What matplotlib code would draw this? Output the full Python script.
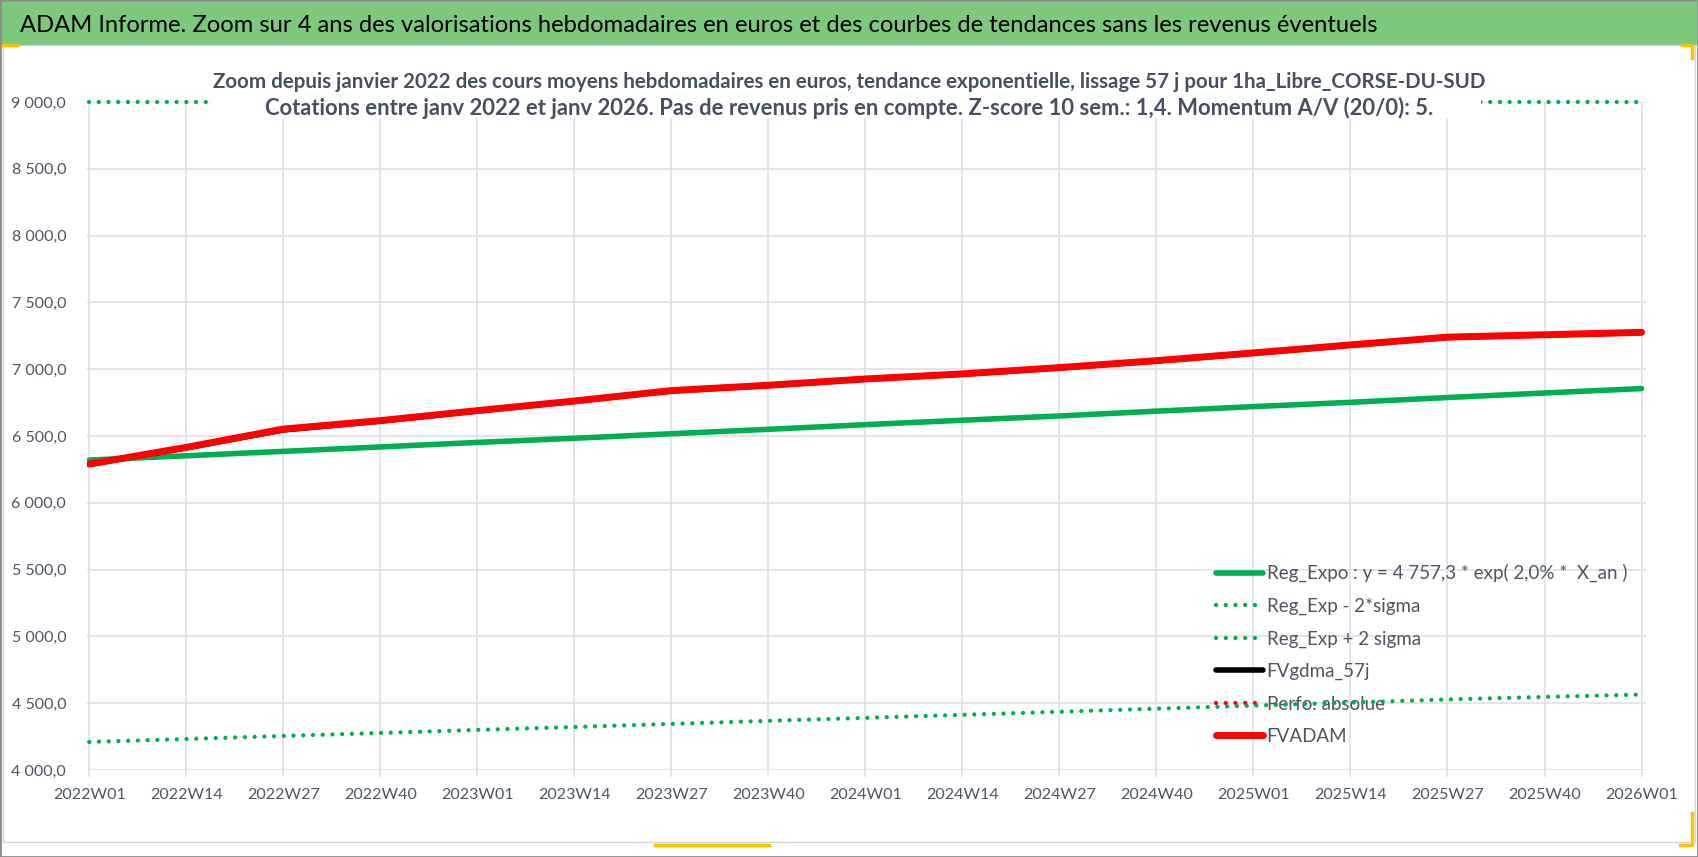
import numpy as np
import matplotlib
matplotlib.use("Agg")
from matplotlib import pyplot as plt
from matplotlib.lines import Line2D
from matplotlib.patches import Rectangle
from matplotlib.ticker import FuncFormatter, MultipleLocator

#####################################################################
# Données (une valeur toutes les 13 semaines)
#####################################################################

tick_labels = ["2022W01", "2022W14", "2022W27", "2022W40",
               "2023W01", "2023W14", "2023W27", "2023W40",
               "2024W01", "2024W14", "2024W27", "2024W40",
               "2025W01", "2025W14", "2025W27", "2025W40", "2026W01"]
step_weeks = 13

reg_expo = [6320, 6352, 6385, 6418, 6452, 6483, 6517, 6550, 6585,
            6618, 6650, 6686, 6720, 6752, 6788, 6822, 6855]
reg_moins = [4210, 4232, 4255, 4277, 4300, 4322, 4345, 4368, 4390,
             4413, 4436, 4459, 4482, 4505, 4528, 4547, 4565]
reg_plus = [9487, 9535, 9584, 9633, 9682, 9731, 9782, 9832, 9884,
            9934, 9985, 10036, 10087, 10140, 10192, 10240, 10290]
fvgdma = [6288, 6412, 6545, 6612, 6688, 6760, 6838, 6878, 6925,
          6963, 7010, 7062, 7120, 7180, 7238, 7256, 7274]
perfo = []
fvadam = [6290, 6415, 6552, 6615, 6690, 6762, 6840, 6880, 6927,
          6965, 7012, 7064, 7122, 7182, 7240, 7258, 7276]

y_max = 9000

titre = "ADAM Informe. Zoom sur 4 ans des valorisations hebdomadaires en euros et des courbes de tendances sans les revenus éventuels"
sous_titre1 = "Zoom depuis janvier 2022 des cours moyens hebdomadaires en euros, tendance exponentielle, lissage 57 j pour 1ha_Libre_CORSE-DU-SUD"
sous_titre2 = "Cotations entre janv 2022 et janv 2026. Pas de revenus pris en compte. Z-score 10 sem.: 1,4. Momentum A/V (20/0): 5."

#####################################################################
# Figure
#####################################################################

W, H = 1698, 857
plt.rcParams['font.family'] = ['Lato', 'DejaVu Sans']
fig = plt.figure(figsize=(W / 100, H / 100), dpi=100)
ax = fig.add_axes([87 / W, 1 - 770 / H, (1646 - 87) / W, (770 - 102) / H])

x = np.arange(len(tick_labels)) * step_weeks
vert = "#00b050"
dots = (0, (0.01, 2.25))
gris_txt = "#4d5563"

ax.plot(x, reg_expo, color=vert, lw=4.0, solid_capstyle="round",
        label="Reg_Expo : y = 4 757,3 * exp( 2,0% *  X_an )")
ax.plot(x, reg_moins, color=vert, lw=3.1, linestyle=dots, dash_capstyle="round",
        label="Reg_Exp - 2*sigma")
ax.plot(x, np.minimum(reg_plus, y_max), color=vert, lw=3.1, linestyle=dots,
        dash_capstyle="round", clip_on=False, label="Reg_Exp + 2 sigma")
ax.plot(x, fvgdma, color="black", lw=4.0, solid_capstyle="round", label="FVgdma_57j")
ax.plot(x[:len(perfo)], perfo, color="red", lw=3.1, linestyle=dots,
        dash_capstyle="round", label="Perfo. absolue")
ax.plot(x, fvadam, color="red", lw=5.0, solid_capstyle="round", label="FVADAM")

ax.set_xlim(-0.3, x[-1] + 0.6)
ax.set_ylim(4000, y_max)
ax.set_xticks(x)
ax.set_xticklabels(tick_labels)
ax.yaxis.set_major_locator(MultipleLocator(500))
ax.yaxis.set_major_formatter(FuncFormatter(
    lambda v, p: f"{v:,.1f}".replace(",", " ").replace(".", ",")))

grille = "#dde1e8"
ax.grid(True, color=grille, lw=1.2)
ax.set_axisbelow(True)
for s in ax.spines.values():
    s.set_visible(False)
ax.tick_params(axis="x", length=5, width=1.2, color=grille, pad=8,
               labelsize=11.5, labelcolor=gris_txt)
ax.tick_params(axis="y", length=0, pad=15, labelsize=11.5, labelcolor=gris_txt)

leg = ax.legend(loc="upper left", bbox_to_anchor=(1216 / W, 1 - 564 / H),
                bbox_transform=fig.transFigure, frameon=False, fontsize=13.5,
                handlelength=2.5, handletextpad=0.2, labelspacing=0.82,
                borderaxespad=0, borderpad=0)
for t in leg.get_texts():
    t.set_color(gris_txt)
leg.set_zorder(1.5)

#####################################################################
# Cadre, bandeau de titre et sous-titre
#####################################################################

fig.patches.append(Rectangle((3 / W, 1 - 842 / H), 1692 / W, 797 / H,
                             transform=fig.transFigure, fill=False,
                             edgecolor="#d4d4d4", lw=1))
fig.patches.append(Rectangle((1 / W, 1 - 45 / H), (W - 2) / W, 43 / H,
                             transform=fig.transFigure, facecolor="#7ec87e",
                             edgecolor="none"))
fig.patches.append(Rectangle((0, 0), 1, 1, transform=fig.transFigure,
                             fill=False, edgecolor="#8a8a8a", lw=2))
fig.text(20 / W, 1 - 25 / H, titre, ha="left", va="center", fontsize=17.1,
         color="black")

boite = Rectangle((211 / W, 1 - 118 / H), 1270 / W, 56 / H,
                  transform=fig.transFigure, facecolor="white",
                  edgecolor="none", zorder=5)
fig.add_artist(boite)
fig.text(0.5, 1 - 82 / H, sous_titre1, ha="center", va="center", fontsize=14.8,
         fontweight="bold", color="#465060", zorder=6)
fig.text(0.5, 1 - 108 / H, sous_titre2, ha="center", va="center", fontsize=15.8,
         fontweight="bold", color="#465060", zorder=6)

# poignées de sélection jaunes
jaune = "#ffc000"
for xs, ys in [([1682, 1692, 1692], [45, 45, 58]),
               ([1692, 1692, 1680], [813, 845, 845]),
               ([655, 769], [845, 845]),
               ([3, 17], [45, 45])]:
    fig.add_artist(Line2D(np.array(xs) / W, 1 - np.array(ys) / H,
                          transform=fig.transFigure, color=jaune, lw=2.5))

plt.savefig("out.png", dpi=100)
